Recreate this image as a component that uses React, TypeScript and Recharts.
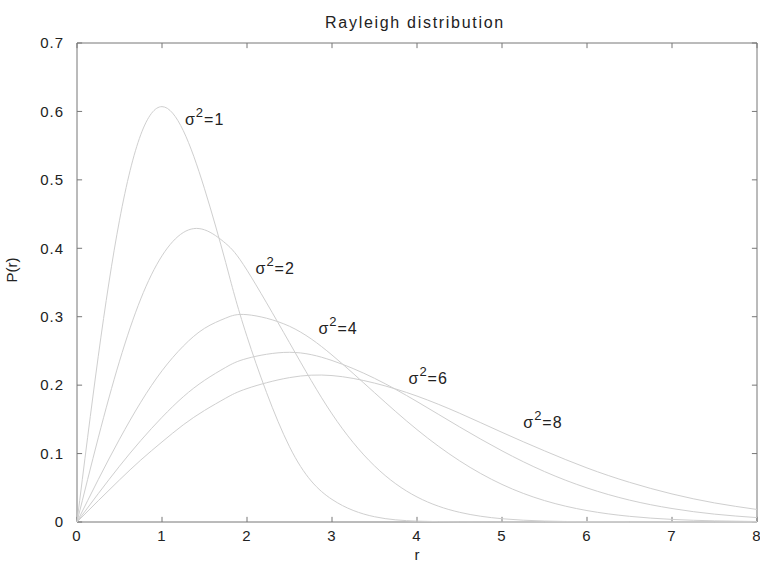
import React from 'react';
import { LineChart, Line, XAxis, YAxis, ReferenceDot, ReferenceArea, ReferenceLine } from 'recharts';

const rValues = [0, 0.25, 0.5, 0.75, 1, 1.25, 1.5, 1.75, 2, 2.5, 3, 3.5, 4, 4.5, 5, 5.5, 6, 6.5, 7, 7.5, 8];
const sigma1 = [0, 0.242, 0.441, 0.566, 0.607, 0.572, 0.487, 0.379, 0.271, 0.11, 0.033, 0.0077, 0.0013, 0.0002, 0, 0, 0, 0, 0, 0, 0];
const sigma2 = [0, 0.123, 0.235, 0.326, 0.389, 0.423, 0.427, 0.407, 0.368, 0.262, 0.158, 0.082, 0.0366, 0.0142, 0.0048, 0.0014, 0.0004, 0.0001, 0, 0, 0];
const sigma4 = [0, 0.062, 0.121, 0.175, 0.221, 0.257, 0.283, 0.298, 0.303, 0.286, 0.244, 0.189, 0.135, 0.0895, 0.0549, 0.0313, 0.0167, 0.0083, 0.0038, 0.0017, 0.0007];
const sigma6 = [0, 0.0414, 0.0816, 0.119, 0.153, 0.183, 0.207, 0.226, 0.239, 0.248, 0.236, 0.21, 0.176, 0.139, 0.104, 0.0737, 0.0498, 0.032, 0.0197, 0.0115, 0.0064];
const sigma8 = [0, 0.0311, 0.0615, 0.0905, 0.117, 0.142, 0.163, 0.181, 0.195, 0.211, 0.214, 0.203, 0.184, 0.159, 0.131, 0.104, 0.079, 0.058, 0.041, 0.0279, 0.0183];

const xTicks = [0, 1, 2, 3, 4, 5, 6, 7, 8];
const yTicks = [0, 0.1, 0.2, 0.3, 0.4, 0.5, 0.6, 0.7];
const X_MIN = 0;
const X_MAX = 8;
const Y_MIN = 0;
const Y_MAX = 0.7;

const seriesKeys = ['s1', 's2', 's4', 's6', 's8'];
const annotations = [
  { n: 1, r: 1.27, p: 0.58 },
  { n: 2, r: 2.1, p: 0.363 },
  { n: 4, r: 2.84, p: 0.275 },
  { n: 6, r: 3.9, p: 0.202 },
  { n: 8, r: 5.25, p: 0.137 },
];

const data = rValues.map((r, i) => ({
  r,
  s1: sigma1[i],
  s2: sigma2[i],
  s4: sigma4[i],
  s6: sigma6[i],
  s8: sigma8[i],
}));

const FONT = '"Liberation Sans", Arial, sans-serif';
const TEXT = '#222';
const AXIS = '#777';
// inward tick length expressed in data units (about 5px)
const TICK_DX = 0.06;
const TICK_DY = 0.0075;

const makeLabel = (n: number) => (props: any) => {
  const vb = props.viewBox || {};
  const x = (vb.x ?? 0) + (vb.width ?? 0) / 2;
  const y = (vb.y ?? 0) + (vb.height ?? 0) / 2;
  return (
    <text x={x} y={y} fill={TEXT} fontSize={16} fontFamily={FONT} letterSpacing={1}>
      <tspan>σ</tspan>
      <tspan dy={-8} fontSize={13}>2</tspan>
      <tspan dy={8}>={n}</tspan>
    </text>
  );
};

export default function App() {
  return (
    <div style={{ position: 'absolute', left: 0, top: 0, width: 760, height: 563, background: '#fff' }}>
      <div
        style={{
          position: 'absolute',
          left: 0,
          width: 760,
          top: 14,
          textAlign: 'center',
          paddingLeft: 70,
          boxSizing: 'border-box',
          fontFamily: FONT,
          fontSize: 16,
          letterSpacing: 1.7,
          color: TEXT,
        }}
      >
        Rayleigh distribution
      </div>
      <LineChart
        width={760}
        height={563}
        data={data}
        margin={{ top: 43, right: 3, bottom: 0, left: 0 }}
      >
        <XAxis
          dataKey="r"
          type="number"
          domain={[X_MIN, X_MAX]}
          ticks={xTicks}
          interval={0}
          height={41}
          axisLine={false}
          tickLine={false}
          tickMargin={2}
          tick={{ fill: TEXT, fontSize: 15, fontFamily: FONT, letterSpacing: 1 }}
          label={{ value: 'r', position: 'insideBottom', offset: 0, fill: TEXT, fontSize: 15, fontFamily: FONT, dy: -3 }}
        />
        <YAxis
          type="number"
          domain={[Y_MIN, Y_MAX]}
          ticks={yTicks}
          interval={0}
          width={77}
          axisLine={false}
          tickLine={false}
          tickMargin={7}
          tickFormatter={(v: number) => (v === 0 ? '0' : v.toFixed(1))}
          tick={{ fill: TEXT, fontSize: 15, fontFamily: FONT, letterSpacing: 1 }}
          label={{ value: 'P(r)', angle: -90, position: 'insideLeft', offset: 12, fill: TEXT, fontSize: 15, fontFamily: FONT }}
        />
        <ReferenceArea
          x1={X_MIN}
          x2={X_MAX}
          y1={Y_MIN}
          y2={Y_MAX}
          fill="none"
          stroke={AXIS}
          strokeWidth={1}
          ifOverflow="visible"
        />
        {xTicks.map((t) => (
          <ReferenceLine
            key={'xb' + t}
            segment={[{ x: t, y: Y_MIN }, { x: t, y: Y_MIN + TICK_DY }]}
            stroke={AXIS}
            ifOverflow="visible"
          />
        ))}
        {xTicks.map((t) => (
          <ReferenceLine
            key={'xt' + t}
            segment={[{ x: t, y: Y_MAX }, { x: t, y: Y_MAX - TICK_DY }]}
            stroke={AXIS}
            ifOverflow="visible"
          />
        ))}
        {yTicks.map((t) => (
          <ReferenceLine
            key={'yl' + t}
            segment={[{ x: X_MIN, y: t }, { x: X_MIN + TICK_DX, y: t }]}
            stroke={AXIS}
            ifOverflow="visible"
          />
        ))}
        {yTicks.map((t) => (
          <ReferenceLine
            key={'yr' + t}
            segment={[{ x: X_MAX, y: t }, { x: X_MAX - TICK_DX, y: t }]}
            stroke={AXIS}
            ifOverflow="visible"
          />
        ))}
        {seriesKeys.map((k) => (
          <Line
            key={k}
            dataKey={k}
            type="natural"
            stroke="#cfcfcf"
            strokeWidth={1}
            dot={false}
            isAnimationActive={false}
          />
        ))}
        {annotations.map((a) => (
          <ReferenceDot
            key={a.n}
            x={a.r}
            y={a.p}
            r={1}
            fill="none"
            stroke="none"
            label={makeLabel(a.n)}
          />
        ))}
      </LineChart>
    </div>
  );
}
